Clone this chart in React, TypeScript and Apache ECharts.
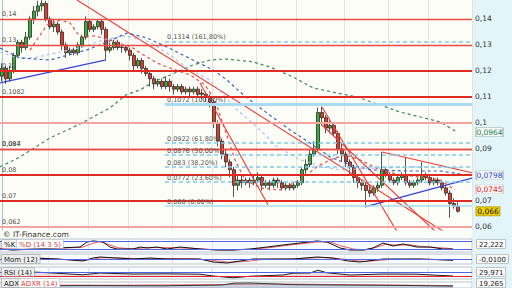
import { useEffect, useRef } from 'react';
import * as echarts from 'echarts';

// ---- candles (open, close, low, high) ----
const opens = [0.118,0.121,0.117,0.120,0.126,0.131,0.129,0.133,0.140,0.143,0.145,0.146,0.140,0.137,0.138,0.135,0.130,0.127,0.128,0.127,0.130,0.133,0.139,0.136,0.137,0.139,0.136,0.128,0.129,0.131,0.129,0.129,0.128,0.126,0.122,0.124,0.121,0.119,0.117,0.115,0.116,0.114,0.116,0.114,0.113,0.114,0.112,0.113,0.112,0.113,0.111,0.111,0.110,0.108,0.100,0.093,0.088,0.085,0.082,0.076,0.078,0.077,0.078,0.077,0.078,0.079,0.076,0.077,0.076,0.078,0.077,0.075,0.076,0.075,0.076,0.077,0.082,0.084,0.088,0.090,0.104,0.102,0.098,0.099,0.096,0.090,0.088,0.085,0.083,0.079,0.077,0.076,0.074,0.073,0.075,0.076,0.082,0.080,0.078,0.077,0.079,0.080,0.077,0.076,0.077,0.078,0.080,0.079,0.077,0.078,0.077,0.075,0.073,0.069,0.068];
const closes = [0.121,0.117,0.120,0.126,0.131,0.129,0.133,0.140,0.143,0.145,0.146,0.140,0.137,0.138,0.135,0.130,0.127,0.128,0.127,0.130,0.133,0.139,0.136,0.137,0.139,0.136,0.128,0.129,0.131,0.129,0.1292,0.128,0.126,0.122,0.124,0.121,0.119,0.117,0.115,0.116,0.114,0.116,0.114,0.113,0.114,0.112,0.113,0.112,0.113,0.111,0.1115,0.110,0.108,0.100,0.093,0.088,0.085,0.082,0.076,0.078,0.077,0.078,0.077,0.078,0.079,0.076,0.077,0.076,0.078,0.077,0.075,0.076,0.075,0.076,0.077,0.082,0.084,0.088,0.090,0.104,0.102,0.098,0.099,0.096,0.090,0.088,0.085,0.083,0.079,0.077,0.076,0.074,0.073,0.075,0.076,0.082,0.080,0.078,0.077,0.079,0.080,0.077,0.076,0.077,0.078,0.080,0.079,0.077,0.078,0.077,0.075,0.073,0.069,0.068,0.066];
const lows = [0.116,0.115,0.116,0.119,0.125,0.127,0.128,0.132,0.138,0.141,0.143,0.139,0.136,0.135,0.134,0.128,0.125,0.126,0.126,0.126,0.129,0.132,0.135,0.135,0.136,0.134,0.124,0.127,0.128,0.128,0.127,0.127,0.124,0.120,0.121,0.119,0.118,0.114,0.113,0.114,0.113,0.113,0.112,0.111,0.112,0.111,0.111,0.110,0.111,0.110,0.109,0.108,0.106,0.098,0.091,0.086,0.083,0.079,0.0715,0.074,0.075,0.076,0.075,0.076,0.077,0.074,0.075,0.074,0.075,0.075,0.074,0.074,0.074,0.074,0.075,0.076,0.080,0.083,0.087,0.089,0.099,0.096,0.096,0.095,0.088,0.085,0.083,0.080,0.077,0.075,0.074,0.0677,0.0715,0.072,0.0735,0.075,0.079,0.077,0.076,0.076,0.078,0.076,0.075,0.075,0.076,0.077,0.078,0.076,0.076,0.076,0.074,0.072,0.0635,0.067,0.0655];
const highs = [0.123,0.122,0.122,0.127,0.132,0.132,0.135,0.141,0.145,0.147,0.1472,0.147,0.141,0.140,0.139,0.136,0.131,0.129,0.129,0.131,0.134,0.141,0.140,0.138,0.140,0.140,0.137,0.131,0.132,0.132,0.130,0.130,0.129,0.127,0.125,0.125,0.122,0.120,0.118,0.117,0.117,0.118,0.117,0.115,0.115,0.115,0.114,0.114,0.114,0.114,0.113,0.112,0.111,0.109,0.101,0.094,0.090,0.086,0.083,0.080,0.080,0.079,0.079,0.080,0.081,0.080,0.078,0.078,0.079,0.079,0.078,0.077,0.077,0.077,0.078,0.083,0.086,0.090,0.093,0.106,0.1063,0.103,0.101,0.100,0.097,0.092,0.089,0.086,0.084,0.080,0.078,0.077,0.076,0.076,0.0775,0.0888,0.083,0.081,0.079,0.080,0.081,0.0869,0.078,0.078,0.079,0.0849,0.081,0.080,0.079,0.079,0.078,0.076,0.074,0.071,0.0695];
const slots = 118;

// ---- moving averages: [candle index, price] ----
const maLong = [[-0.5,0.0831],[4.5,0.0869],[12,0.0942],[19.5,0.0996],[27,0.1058],[31,0.1108],[34.5,0.1127],[38.75,0.1165],[41,0.1177],[47.75,0.1223],[52,0.1242],[56,0.1246],[62.75,0.1235],[67,0.1215],[72.75,0.1177],[77.75,0.1135],[83.75,0.1115],[88.75,0.11],[99.5,0.1042],[109.5,0.1004],[113.75,0.0965]];
const maMid = [[-0.5,0.1288],[4.5,0.125],[12,0.1242],[21.25,0.1281],[26.25,0.1311],[31.25,0.1346],[36.25,0.1327],[41.25,0.1292],[47.75,0.1242],[52.75,0.1204],[56.25,0.1165],[59.5,0.1119],[62,0.1088],[66.25,0.1038],[72,0.0973],[77,0.0923],[82,0.0869],[87,0.0838],[92.75,0.0819],[101.25,0.0815],[109.5,0.0815],[114.5,0.0804]];
const maBand = [[-0.5,0.1273],[3.75,0.125],[7.75,0.125],[14.5,0.1273],[20.25,0.1292],[25.25,0.1319],[30.75,0.1335],[37,0.1311],[42,0.1261],[47,0.1204],[52,0.1165],[58.75,0.105],[63.75,0.0985],[68.75,0.0908],[74.5,0.0858],[80.25,0.0831],[84.5,0.0819],[94.5,0.0827],[104.5,0.0831],[114.5,0.0827]];
const maShort = [[7,0.128],[11.25,0.1377],[14.5,0.1396],[17,0.1385],[19.5,0.1331],[23,0.1335],[27,0.132],[32.75,0.1288],[35.25,0.1262],[38.75,0.1231],[41.25,0.1215],[47,0.1185],[50.75,0.1146],[53.25,0.1088],[55.75,0.0973],[58.25,0.0858],[60.75,0.0781],[64.5,0.075],[69.5,0.0742],[74.5,0.0781],[78.75,0.0831],[82,0.0858],[85.75,0.0877],[89.5,0.0858],[94.5,0.0819],[99.5,0.08],[104.5,0.0792],[109.5,0.0781],[113.25,0.0742]];

// ---- trend lines: [candle index, price] pairs ----
const redTrends = [
  [[18.75,0.1473],[111.75,0.0569]],
  [[49.5,0.1154],[66.5,0.0685]],
  [[80,0.1061],[99.25,0.0569]],
  [[80,0.0992],[109.25,0.0569]],
  [[95,0.0888],[117.5,0.0808]],
];
const blueTrends = [
  [[-0.5,0.1154],[25.75,0.1242]],
  [[90.75,0.0677],[117.5,0.0788]],
];

// ---- horizontal levels ----
const srLevels = [0.14,0.13,0.12,0.1082,0.1,0.094,0.087,0.08,0.07,0.062];
const srKinds = ['n','n','s','s','l','n','n','s','s','l'];
const srLabeled = [true,true,true,true,false,true,true,true,true,true];
const fibLevels = [0.1314,0.1072,0.0922,0.0876,0.083,0.0772,0.068];
const fibPct = ['161,80%','100,00%','61,80%','50,00%','38,20%','23,60%','0,00%'];
const fibStart = 40.75;

// ---- last values shown on the price scale ----
const lastLong = 0.0964;
const lastMid = 0.0798;
const lastShort = 0.0745;
const lastPrice = 0.066;
const priceTicks = [0.06,0.07,0.08,0.09,0.1,0.11,0.12,0.13,0.14];
const priceLabels = [0.06,0.07,0.09,0.1,0.11,0.12,0.13,0.14];
const vLines = [12,22,32,43,53,64,74,86,97,107];

// ---- indicators: [candle index, value] ----
const stochK = [[-0.5,23],[2.75,15],[7.75,23],[13.75,31],[19.5,38],[21.25,77],[22.75,85],[25.25,77],[27,38],[28.75,23],[32.75,23],[34.5,38],[36.25,31],[38.75,38],[41.25,23],[44.5,38],[47,31],[49.5,23],[53.75,15],[57.75,15],[62,23],[66.25,38],[70.25,54],[74.5,69],[78.75,85],[81.25,77],[84.5,31],[87,15],[90.25,15],[92.75,31],[95.25,69],[97.75,46],[100.25,62],[103.75,38],[107,38],[110.25,23],[112.75,22.2]];
const stochD = [[-0.5,25],[5,18],[10,24],[15,30],[20,36],[22.5,65],[24.5,80],[26.5,60],[29,32],[33,24],[36,33],[40,34],[44,32],[48,27],[52,20],[57,16],[62,20],[67,34],[71,50],[75,64],[79,78],[82,76],[85,45],[88,22],[91,16],[94,40],[96,60],[99,52],[102,55],[105,42],[108,36],[112.75,25]];
const mom = [[4,0.012],[7.75,0.008],[13.75,0],[20.25,-0.016],[22.75,0.008],[24.5,0.016],[28.75,0.008],[32.75,0],[37,0.008],[41.25,0],[49.5,0],[52.75,-0.024],[56.25,-0.032],[59.5,-0.016],[62.75,0],[72.75,0],[78.75,0.016],[82.75,0.008],[86.5,-0.016],[89.5,-0.024],[95.25,0],[104.5,0],[108,-0.004],[112.75,-0.01]];
const momSignal = [[4,0.016],[10,0.006],[16,-0.004],[21,-0.01],[25,0.01],[30,0.008],[35,0.002],[40,0.004],[48,0.001],[53,-0.012],[57,-0.026],[61,-0.02],[65,-0.004],[74,0.002],[80,0.012],[84,0.004],[88,-0.012],[91,-0.02],[97,-0.004],[106,-0.002],[112.75,-0.008]];
const rsi = [[7.75,70],[11.75,62],[16,52],[20.25,42],[24.5,60],[28,55],[32.75,50],[41.25,52],[49.5,48],[52.75,30],[57.75,12],[62.25,28],[70.25,40],[72.75,58],[77,60],[79,88],[81.25,62],[87,40],[95.25,50],[103.75,48],[111.5,32],[112.75,30]];
const adx = [[0,20],[20,24],[40,22],[55,30],[58,48],[62,50],[66,44],[72,34],[85,30],[100,26],[112.75,19]];
const adxr = [[0,30],[30,28],[60,36],[70,40],[90,32],[112.75,24]];
const indicatorLast = ['22,222','-0,0100','29,971','19,265'];

const fmt = (v: number) => String(v).replace('.', ',');
const FONT = 'DejaVu Sans';

export default function App() {
  const ref = useRef<HTMLDivElement>(null);
  useEffect(() => {
    const chart = echarts.init(ref.current!, null, { renderer: 'svg' });
    const categories = Array.from({ length: slots }, (_, i) => String(i + 1));
    const ohlc = opens.map((o, i) => [o, closes[i], lows[i], highs[i]]);

    const gridDefs = [
      { top: 0, height: 230, bg: '#fdfdf7' },
      { top: 239, height: 13, bg: '#fbfcfd' },
      { top: 254, height: 10, bg: '#fbfcfd' },
      { top: 267, height: 12, bg: '#fbfcfd' },
      { top: 282, height: 14, bg: '#fbfcfd' },
    ];
    const grid = gridDefs.map((g, i) => ({
      left: 0, width: 472, top: g.top, height: g.height, show: true,
      backgroundColor: g.bg, borderColor: i === 0 ? 'transparent' : '#aab8c8', borderWidth: i === 0 ? 0 : 0.8,
    }));
    const xAxis: any[] = [];
    gridDefs.forEach((_, gi) => {
      xAxis.push({
        type: 'category', gridIndex: gi, data: categories, boundaryGap: true,
        axisLine: { show: false }, axisTick: { show: false }, axisLabel: { show: false },
        splitLine: { show: true, interval: (idx: number) => vLines.includes(idx), lineStyle: { color: '#e4e4da', width: 1 } },
      });
      xAxis.push({ type: 'value', gridIndex: gi, min: -0.5, max: slots - 0.5, show: false });
    });
    const yAxis: any[] = [
      {
        type: 'value', gridIndex: 0, position: 'right', min: 0.0588, max: 0.1473, scale: true,
        axisLine: { show: true, lineStyle: { color: '#9cc8d2' } },
        axisTick: { show: true, length: 4, customValues: priceTicks, lineStyle: { color: '#555' } },
        axisLabel: { show: true, customValues: priceLabels, formatter: (v: number) => fmt(+v.toFixed(4)), color: '#333', fontSize: 7.5, fontFamily: FONT, margin: 3 },
        splitLine: { show: false },
      },
      { type: 'value', gridIndex: 1, min: 0, max: 100, show: false },
      { type: 'value', gridIndex: 2, min: -0.04, max: 0.04, show: false },
      { type: 'value', gridIndex: 3, min: 0, max: 120, show: false },
      { type: 'value', gridIndex: 4, min: 0, max: 60, show: false },
    ];

    const srStyle: any = {
      n: { color: '#ec4b43', width: 1.3 },
      s: { color: '#e02a22', width: 2 },
      l: { color: '#f3a3a0', width: 1.8 },
    };
    const lvlLabel = (text: string, show = true) => ({
      show, position: 'insideStartTop', formatter: text, color: '#555', fontSize: 6.5, fontFamily: FONT, distance: [2, 1],
    });
    const levelMarks = [
      ...srLevels.map((v, i) => ({
        yAxis: v, lineStyle: { ...srStyle[srKinds[i]], type: 'solid' }, label: lvlLabel(fmt(v), srLabeled[i]),
      })),
      ...fibLevels.map((v, i) => {
        const solid = fibPct[i] === '100,00%' || fibPct[i] === '0,00%';
        return [
          {
            coord: [fibStart, v],
            lineStyle: solid
              ? { color: '#a9dcf3', width: fibPct[i] === '100,00%' ? 3 : 1.5, type: 'solid' }
              : { color: '#7ccbef', width: 1.5, type: [4, 3] },
            label: lvlLabel(`${fmt(v)} (${fibPct[i]})`),
          },
          { coord: [slots - 0.5, v] },
        ];
      }),
    ];

    const tag = (value: number, text: string, fg: string, bg: string, border: string, w = 27) => ({
      symbol: 'rect', symbolSize: [w, 9], symbolOffset: [w / 2 + 4, 0], silent: true,
      itemStyle: { color: bg, borderColor: border, borderWidth: 0.6 },
      label: { show: true, position: 'inside', formatter: text, color: fg, fontSize: 7.5, fontFamily: FONT },
      data: [{ coord: [slots - 0.5, value] }],
    });

    const ov = { xAxisIndex: 1, yAxisIndex: 0, type: 'line', symbol: 'none', silent: true } as any;
    const series: any[] = [
      {
        ...ov, name: 'levels', data: blueTrends[0], z: 1,
        lineStyle: { color: '#3444dc', width: 1.3 },
        markLine: { silent: true, symbol: ['none', 'none'], animation: false, data: levelMarks },
      },
      {
        type: 'candlestick', xAxisIndex: 0, yAxisIndex: 0, data: ohlc, barWidth: 3, z: 3,
        itemStyle: { color: '#35b035', color0: '#e03a2c', borderColor: '#2a2a2a', borderColor0: '#2a2a2a', borderWidth: 0.8 },
      },
      { ...ov, data: blueTrends[1], z: 4, lineStyle: { color: '#3444dc', width: 1.3 } },
      ...redTrends.map((t) => ({ ...ov, data: t, z: 4, lineStyle: { color: '#ec3b33', width: 1.1 } })),
      { ...ov, data: maLong, z: 4, lineStyle: { color: '#3d8c5c', width: 1.2, type: [3, 3] },
        markPoint: tag(lastLong, fmt(lastLong), '#2e7d4f', '#f2fbf5', '#9aa') },
      { ...ov, data: maBand, z: 4, lineStyle: { color: '#a9c4ef', width: 1.2, type: [3, 3] } },
      { ...ov, data: maMid, z: 4, lineStyle: { color: '#3a62c2', width: 1.2, type: [3, 3] },
        markPoint: tag(lastMid, fmt(lastMid), '#3050c0', '#f3f4fc', '#9aa') },
      { ...ov, data: maShort, z: 4, lineStyle: { color: '#e44d48', width: 1.2, type: [3, 3] },
        markPoint: tag(lastShort, fmt(lastShort), '#d02a2a', '#fbf3f3', '#bbb') },
      { ...ov, data: [[113, 0.068], [114, 0.066]], z: 4, lineStyle: { width: 0 },
        markPoint: tag(lastPrice, fmt(lastPrice), '#111', '#f3cf00', '#a08a00', 24) },
      // %K / %D
      {
        type: 'line', xAxisIndex: 3, yAxisIndex: 1, data: stochK, symbol: 'none', lineStyle: { color: '#111', width: 1 }, z: 3,
        markLine: { silent: true, symbol: ['none', 'none'], label: { show: false }, lineStyle: { color: '#5262e4', width: 1, type: 'solid' }, data: [{ yAxis: 80 }, { yAxis: 20 }] },
      },
      { type: 'line', xAxisIndex: 3, yAxisIndex: 1, data: stochD, symbol: 'none', lineStyle: { color: '#ee5a5a', width: 1 }, z: 2 },
      // Momentum
      {
        type: 'line', xAxisIndex: 5, yAxisIndex: 2, data: mom, symbol: 'none', lineStyle: { color: '#111', width: 1 }, z: 3,
        markLine: { silent: true, symbol: ['none', 'none'], label: { show: false }, lineStyle: { color: '#5262e4', width: 1, type: 'solid' }, data: [{ yAxis: 0 }] },
      },
      { type: 'line', xAxisIndex: 5, yAxisIndex: 2, data: momSignal, symbol: 'none', lineStyle: { color: '#ee6a6a', width: 1 }, z: 2 },
      // RSI
      {
        type: 'line', xAxisIndex: 7, yAxisIndex: 3, data: rsi, symbol: 'none', lineStyle: { color: '#222', width: 1 }, z: 3,
        areaStyle: { color: '#c8a8a8', opacity: 0.35, origin: 30 },
        markLine: { silent: true, symbol: ['none', 'none'], label: { show: false }, data: [
          { yAxis: 70, lineStyle: { color: '#5262e4', width: 1, type: 'solid' } },
          { yAxis: 30, lineStyle: { color: '#e0242a', width: 1.2, type: 'solid' } },
        ] },
      },
      // ADX
      { type: 'line', xAxisIndex: 9, yAxisIndex: 4, data: adx, symbol: 'none', lineStyle: { color: '#333', width: 1 }, areaStyle: { color: '#9aa8c8', opacity: 0.5 }, z: 3 },
      { type: 'line', xAxisIndex: 9, yAxisIndex: 4, data: adxr, symbol: 'none', lineStyle: { color: '#ee6a6a', width: 1 }, z: 2 },
    ];

    const box = (text: string, x: number, y: number, fill: string, bg: string, border: string) => ({
      type: 'text', x, y, z: 20,
      style: { text, fill, fontSize: 7, fontFamily: FONT, backgroundColor: bg, borderColor: border, borderWidth: 0.6, padding: [1, 2, 0, 2] },
    });
    const panelTops = [240, 255, 268, 279];
    const graphic: any[] = [
      { type: 'text', x: 3, y: 230.5, z: 20, style: { text: '© IT-Finance.com', fill: '#333', fontSize: 7.5, fontFamily: FONT } },
      box('%K', 2, 240, '#222', '#f0f0f0', '#999'),
      box('%D (14 3 5)', 17, 240, '#e03a3a', '#ffffff', '#bbb'),
      box('Mom (12)', 2, 255, '#222', '#eeeeee', '#999'),
      box('RSI (14)', 2, 268, '#222', '#eeeeee', '#999'),
      box('ADX', 2, 279, '#222', '#eeeeee', '#999'),
      box('ADXR (14)', 19, 279, '#e03a3a', '#ffffff', '#bbb'),
      ...indicatorLast.map((t, i) => box(t, 477, panelTops[i], '#222', '#fafafa', '#999')),
    ];

    chart.setOption({
      animation: false,
      backgroundColor: 'transparent',
      grid, xAxis, yAxis, series, graphic,
    });
    return () => chart.dispose();
  }, []);
  return (
    <div
      ref={ref}
      style={{
        position: 'absolute', left: 0, top: 0, width: 512, height: 288,
        background: 'linear-gradient(to right, #fdfdf7 472px, #e3f5f9 472px)',
      }}
    />
  );
}
